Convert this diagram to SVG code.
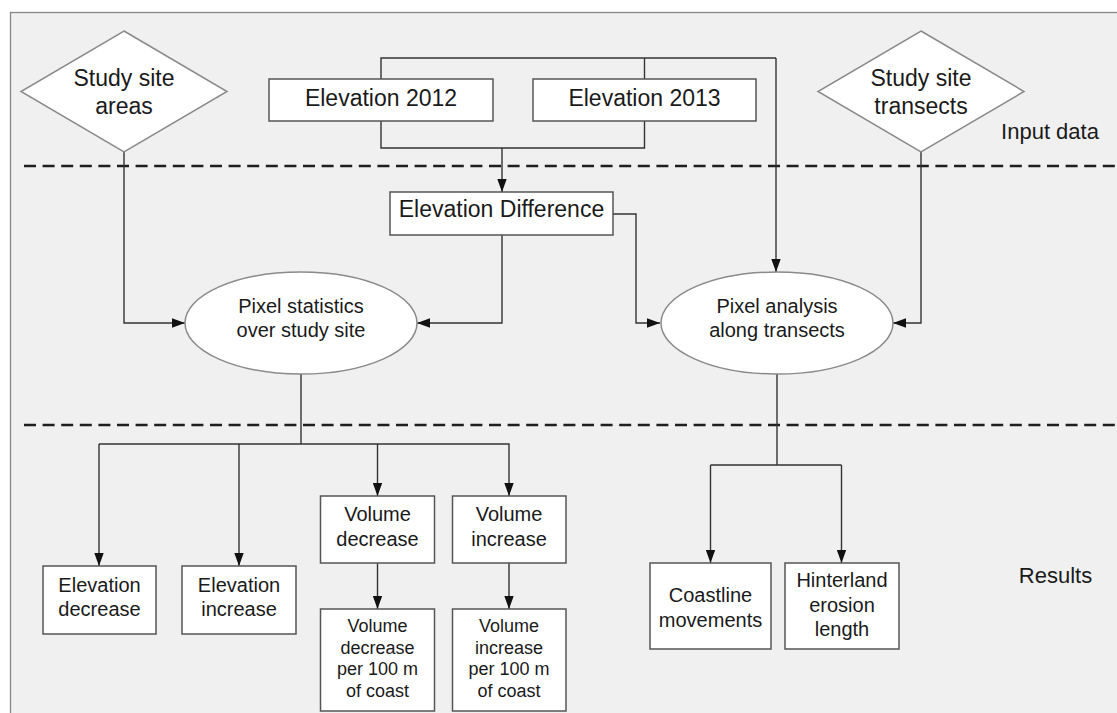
<svg xmlns="http://www.w3.org/2000/svg" width="1117" height="713" viewBox="0 0 1117 713">
<style>
text{font-family:"Liberation Sans",Arial,sans-serif;fill:#1a1a1a;text-anchor:middle}
.t23{font-size:23px}.t20{font-size:20px}.t18{font-size:18px}.t22{font-size:22px}
.box{fill:#fff;stroke:#555;stroke-width:1.5}
.shape{fill:#fff;stroke:#8a8a8a;stroke-width:1.5}
.conn{fill:none;stroke:#333;stroke-width:1.4}
.dash{stroke:#1e1e1e;stroke-width:2.5;stroke-dasharray:12 6.6;fill:none}
</style>
<defs>
<marker id="arr" viewBox="0 0 13 10" refX="13" refY="5" markerWidth="13" markerHeight="10" markerUnits="userSpaceOnUse" orient="auto">
<path d="M0,0.3 L13,5 L0,9.7 z" fill="#111"/>
</marker>
</defs>
<rect x="10.5" y="12.5" width="1120" height="710" fill="#f0f0f0" stroke="#888" stroke-width="1.3"/>
<g id="dividers">
<line class="dash" x1="24" y1="166" x2="1117" y2="166"/>
<line class="dash" x1="24" y1="425" x2="1117" y2="425"/>
</g>
<g id="connectors">
<path class="conn" d="M381,79 V58 H776"/>
<path class="conn" d="M644.5,79 V58"/>
<path class="conn" d="M776,58 V272" marker-end="url(#arr)"/>
<path class="conn" d="M381,121 V148 H644.5 V121"/>
<path class="conn" d="M502,148 V192" marker-end="url(#arr)"/>
<path class="conn" d="M613,214 H636 V323 H660" marker-end="url(#arr)"/>
<path class="conn" d="M502,235 V323 H417" marker-end="url(#arr)"/>
<path class="conn" d="M124,152 V323 H185" marker-end="url(#arr)"/>
<path class="conn" d="M921,152 V323 H893" marker-end="url(#arr)"/>
<path class="conn" d="M301,374 V444"/>
<path class="conn" d="M99,444 H509 V496" marker-end="url(#arr)"/>
<path class="conn" d="M99,444 V566" marker-end="url(#arr)"/>
<path class="conn" d="M239,444 V566" marker-end="url(#arr)"/>
<path class="conn" d="M377.5,444 V496" marker-end="url(#arr)"/>
<path class="conn" d="M377.5,563 V609" marker-end="url(#arr)"/>
<path class="conn" d="M509,563 V609" marker-end="url(#arr)"/>
<path class="conn" d="M777,374 V465"/>
<path class="conn" d="M710.5,465 H841.5"/>
<path class="conn" d="M710.5,465 V563" marker-end="url(#arr)"/>
<path class="conn" d="M841.5,465 V563" marker-end="url(#arr)"/>
</g>
<g id="study-site-areas">
<polygon class="shape" points="124,31 227,91.5 124,152 21,91.5"/>
<text class="t23" x="124" y="86">Study site</text>
<text class="t23" x="124" y="114">areas</text>
</g>
<g id="elevation-2012">
<rect class="box" x="269" y="79" width="224" height="42"/>
<text class="t23" x="381" y="106">Elevation 2012</text>
</g>
<g id="elevation-2013">
<rect class="box" x="533" y="79" width="223" height="42"/>
<text class="t23" x="644.5" y="106">Elevation 2013</text>
</g>
<g id="study-site-transects">
<polygon class="shape" points="921,31 1024,91.5 921,152 818,91.5"/>
<text class="t23" x="921" y="86">Study site</text>
<text class="t23" x="921" y="114">transects</text>
</g>
<g id="label-input">
<text class="t22" x="1050" y="139">Input data</text>
</g>
<g id="elevation-difference">
<rect class="box" x="390" y="192" width="223" height="43"/>
<text class="t23" x="501.5" y="217">Elevation Difference</text>
</g>
<g id="pixel-statistics">
<ellipse class="shape" cx="301" cy="323" rx="116" ry="51"/>
<text class="t20" x="301" y="313">Pixel statistics</text>
<text class="t20" x="301" y="337">over study site</text>
</g>
<g id="pixel-analysis">
<ellipse class="shape" cx="777" cy="323" rx="116" ry="51"/>
<text class="t20" x="777" y="313">Pixel analysis</text>
<text class="t20" x="777" y="337">along transects</text>
</g>
<g id="elevation-decrease">
<rect class="box" x="43" y="566" width="113" height="68"/>
<text class="t20" x="99.5" y="592">Elevation</text>
<text class="t20" x="99.5" y="616">decrease</text>
</g>
<g id="elevation-increase">
<rect class="box" x="182" y="566" width="114" height="68"/>
<text class="t20" x="239" y="592">Elevation</text>
<text class="t20" x="239" y="616">increase</text>
</g>
<g id="volume-decrease">
<rect class="box" x="320.5" y="496" width="114" height="67"/>
<text class="t20" x="377.5" y="521">Volume</text>
<text class="t20" x="377.5" y="546">decrease</text>
</g>
<g id="volume-increase">
<rect class="box" x="452.5" y="496" width="113.5" height="67"/>
<text class="t20" x="509" y="521">Volume</text>
<text class="t20" x="509" y="546">increase</text>
</g>
<g id="volume-decrease-per-100m">
<rect class="box" x="320.5" y="609" width="114" height="102"/>
<text class="t18" x="377.5" y="631.5">Volume</text>
<text class="t18" x="377.5" y="653.5">decrease</text>
<text class="t18" x="377.5" y="675">per 100 m</text>
<text class="t18" x="377.5" y="696.5">of coast</text>
</g>
<g id="volume-increase-per-100m">
<rect class="box" x="452.5" y="609" width="113.5" height="102"/>
<text class="t18" x="509" y="631.5">Volume</text>
<text class="t18" x="509" y="653.5">increase</text>
<text class="t18" x="509" y="675">per 100 m</text>
<text class="t18" x="509" y="696.5">of coast</text>
</g>
<g id="coastline-movements">
<rect class="box" x="650" y="563" width="121" height="86"/>
<text class="t20" x="710.5" y="602">Coastline</text>
<text class="t20" x="710.5" y="627">movements</text>
</g>
<g id="hinterland-erosion-length">
<rect class="box" x="785" y="563" width="114" height="86"/>
<text class="t20" x="842" y="587">Hinterland</text>
<text class="t20" x="842" y="612">erosion</text>
<text class="t20" x="842" y="636">length</text>
</g>
<g id="label-results">
<text class="t22" x="1055.5" y="583">Results</text>
</g>
</svg>
